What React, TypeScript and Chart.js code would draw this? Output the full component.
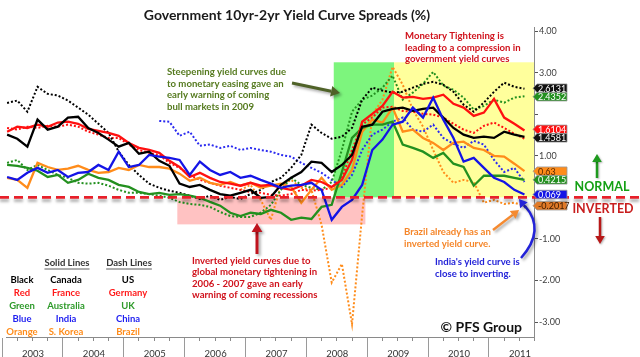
import React, { useEffect, useRef } from 'react';
import { Chart, registerables } from 'chart.js';
Chart.register(...registerables);

const FONT = 'Lato, "Open Sans", sans-serif';

// ---------- data ----------
const dates = [
  '2003-02','2003-04','2003-06','2003-08','2003-10','2003-12',
  '2004-02','2004-04','2004-06','2004-08','2004-10','2004-12',
  '2005-02','2005-04','2005-06','2005-08','2005-10','2005-12',
  '2006-02','2006-04','2006-06','2006-08','2006-10','2006-12',
  '2007-02','2007-04','2007-06','2007-08','2007-10','2007-12',
  '2008-02','2008-04','2008-06','2008-08','2008-10','2008-12',
  '2009-02','2009-04','2009-06','2009-08','2009-10','2009-12',
  '2010-02','2010-04','2010-06','2010-08','2010-10','2010-12',
  '2011-02','2011-04','2011-06','2011-08',
];

const canada = [1.51,1.41,1.22,1.87,1.63,1.70,1.92,1.94,1.67,1.55,1.39,1.22,1.31,1.05,1.10,0.88,0.76,0.33,0.25,0.30,0.18,0.08,0.04,0.11,0.18,-0.01,0.01,0.30,0.47,0.61,0.86,0.83,0.61,0.78,1.02,1.70,1.75,2.06,2.13,2.16,2.08,2.13,2.16,1.92,1.67,1.51,1.43,1.46,1.43,1.58,1.51,1.4581];
const france = [1.58,1.70,1.67,1.75,1.70,1.80,1.82,1.77,1.65,1.60,1.55,1.48,1.31,1.19,1.14,1.07,0.88,0.73,0.49,0.59,0.47,0.37,0.33,0.28,0.35,0.28,0.30,0.23,0.18,0.28,0.42,0.37,0.25,0.42,0.90,1.82,2.01,2.20,2.54,2.40,2.42,2.37,2.40,2.47,2.25,2.16,1.96,2.04,2.37,1.92,1.77,1.6104];
const australia = [0.78,0.76,0.71,0.64,0.49,0.54,0.35,0.42,0.57,0.47,0.42,0.30,0.25,0.13,0.08,0.11,0.06,0.08,0.04,-0.01,-0.11,-0.20,-0.37,-0.45,-0.37,-0.40,-0.30,-0.37,-0.54,-0.49,-0.52,-0.23,-0.18,0.61,1.43,1.67,1.75,1.75,1.82,1.27,1.19,1.10,0.95,1.07,0.81,0.73,0.28,0.52,0.52,0.52,0.47,0.4215];
const india = [0.49,0.42,0.59,0.71,0.59,0.66,0.49,0.59,0.61,0.78,0.66,1.10,0.73,0.78,1.02,0.98,0.95,0.90,0.54,0.86,0.66,0.54,0.61,0.47,0.52,0.42,0.33,0.23,0.28,0.30,0.35,0.18,-0.54,-0.23,-0.06,0.30,1.14,1.39,1.75,1.82,2.16,1.92,2.40,1.87,1.43,0.86,0.95,0.71,0.47,0.37,0.18,0.069];
const sKorea = [0.47,0.42,0.23,0.83,0.73,0.66,0.69,0.76,0.66,0.59,0.61,0.71,0.66,0.78,0.73,0.73,0.69,0.57,0.40,0.47,0.35,0.30,0.37,0.28,0.35,0.23,0.28,0.33,0.25,-0.13,0.18,0.47,0.18,0.30,0.66,1.58,1.87,1.80,2.16,1.58,1.63,1.43,1.31,1.14,1.31,1.34,1.19,1.14,1.00,0.98,0.81,0.63];
const us = [2.27,2.33,2.06,2.66,2.49,2.45,2.33,2.16,1.99,1.77,1.55,1.10,0.78,0.54,0.33,0.23,0.16,0.11,0.04,-0.04,0.04,-0.06,0.01,-0.04,0.08,0.18,0.37,0.47,0.71,1.02,1.75,1.55,1.41,1.46,1.67,2.35,2.64,2.57,2.52,2.54,2.64,2.73,2.78,2.71,2.54,2.23,2.06,2.28,2.54,2.76,2.66,2.6131];
const germany = [1.67,1.63,1.70,1.67,1.72,1.70,1.75,1.70,1.58,1.51,1.43,1.43,1.27,1.14,1.07,1.02,0.83,0.71,0.54,0.42,0.35,0.28,0.23,0.18,0.13,0.11,0.06,0.04,0.08,0.18,0.16,0.18,0.23,0.47,1.14,1.75,1.92,2.16,2.18,2.08,2.06,2.01,1.99,1.92,1.77,1.63,1.55,1.72,1.80,1.67,1.53,1.41];
const uk = [0.83,0.90,0.66,0.78,0.66,0.54,0.47,0.35,0.33,0.35,0.28,0.18,0.11,0.11,0.08,0.04,-0.01,-0.11,-0.16,-0.18,-0.23,-0.35,-0.45,-0.47,-0.47,-0.37,-0.18,0.18,0.47,0.30,0.23,0.18,0.37,1.14,2.06,2.35,2.45,2.64,2.93,2.35,2.52,2.73,3.02,2.69,2.59,2.40,2.11,2.20,2.35,2.28,2.40,2.4352];
const china = [null,null,null,null,null,null,null,null,null,null,null,null,null,null,null,1.84,1.82,1.48,1.58,1.24,1.27,1.19,1.24,1.14,1.19,1.14,1.10,1.02,0.98,0.83,0.71,0.59,0.42,0.25,0.54,1.14,1.51,1.63,1.82,1.92,1.63,1.58,1.75,1.43,1.29,1.19,1.36,1.27,0.90,0.61,0.71,0.37];
const brazil = [null,null,null,null,null,null,null,null,null,null,null,null,null,null,null,null,null,null,null,null,null,null,null,0.18,0.30,-0.06,-0.54,0.30,0.42,0.23,0.18,-0.66,-2.05,-1.60,-3.05,-0.42,1.99,2.35,3.14,2.71,2.11,1.70,1.14,0.61,0.35,0.42,0.37,-0.13,-0.06,-0.16,-0.13,-0.2017];

const yearTicks = [2003, 2004, 2005, 2006, 2007, 2008, 2009, 2010, 2011];
const yTicks = [-3, -2, -1, 0, 1, 2, 3, 4];
const hiddenYLabels = [0, 2];

// shaded periods (fractional years / spread values)
const bandStarts = [2005.88, 2008.45, 2009.44];
const bandEnds = [2008.97, 2009.44, 2011.74];
const bandLows = [-0.65, 0, 0];
const bandHighs = [0, 3.25, 3.25];

// ---------- styles ----------
const bandColors = ['#FFC2C2', '#7DF57D', '#FFFF9C'];
const C = {
  black: '#000000',
  red: '#FF1010',
  green: '#23901F',
  blue: '#1414E6',
  orange: '#FF8C1A',
};

const seriesDefs = [
  { label: 'India', data: india, color: C.blue, dotted: false },
  { label: 'Canada', data: canada, color: C.black, dotted: false },
  { label: 'France', data: france, color: C.red, dotted: false },
  { label: 'Australia', data: australia, color: C.green, dotted: false },
  { label: 'S. Korea', data: sKorea, color: C.orange, dotted: false },
  { label: 'US', data: us, color: C.black, dotted: true },
  { label: 'Germany', data: germany, color: C.red, dotted: true },
  { label: 'UK', data: uk, color: C.green, dotted: true },
  { label: 'China', data: china, color: '#2B2BF0', dotted: true },
  { label: 'Brazil', data: brazil, color: C.orange, dotted: true },
];

const endLabels = [
  { name: 'US', bg: '#111111', fg: '#FFFFFF' },
  { name: 'UK', bg: '#23901F', fg: '#FFFFFF' },
  { name: 'France', bg: '#FF1010', fg: '#FFFFFF' },
  { name: 'Canada', bg: '#111111', fg: '#FFFFFF' },
  { name: 'S. Korea', bg: '#FF8C1A', fg: '#5A2A00' },
  { name: 'Australia', bg: '#23901F', fg: '#FFFFFF' },
  { name: 'India', bg: '#1414E6', fg: '#FFFFFF' },
  { name: 'Brazil', bg: '#E07A28', fg: '#3A1A00' },
];

const legendRows = [
  ['Black', 'Canada', 'US', '#000000'],
  ['Red', 'France', 'Germany', '#FF1A1A'],
  ['Green', 'Australia', 'UK', '#2E9A2A'],
  ['Blue', 'India', 'China', '#1E1EF0'],
  ['Orange', 'S. Korea', 'Brazil', '#FF8C1A'],
];

const toYear = (s: string) => Number(s.slice(0, 4)) + (Number(s.slice(5, 7)) - 1) / 12;

function drawArrow(ctx: CanvasRenderingContext2D, x0: number, y0: number, x1: number, y1: number, color: string, w: number, head: number) {
  const ang = Math.atan2(y1 - y0, x1 - x0);
  const bx = x1 - head * Math.cos(ang);
  const by = y1 - head * Math.sin(ang);
  ctx.strokeStyle = color;
  ctx.lineWidth = w;
  ctx.setLineDash([]);
  ctx.beginPath();
  ctx.moveTo(x0, y0);
  ctx.lineTo(bx, by);
  ctx.stroke();
  ctx.fillStyle = color;
  ctx.beginPath();
  ctx.moveTo(x1, y1);
  ctx.lineTo(bx + head * 0.6 * Math.sin(ang), by - head * 0.6 * Math.cos(ang));
  ctx.lineTo(bx - head * 0.6 * Math.sin(ang), by + head * 0.6 * Math.cos(ang));
  ctx.closePath();
  ctx.fill();
}

function drawLines(ctx: CanvasRenderingContext2D, lines: string[], x: number, y: number, lh: number, color: string, size: number, align: CanvasTextAlign = 'left') {
  ctx.font = `bold ${size}px ${FONT}`;
  ctx.fillStyle = color;
  ctx.textAlign = align;
  ctx.textBaseline = 'middle';
  lines.forEach((t, i) => ctx.fillText(t, x, y + i * lh));
}

const decor = {
  id: 'decor',
  beforeDatasetsDraw(chart: any) {
    const { ctx, chartArea: a, scales } = chart;
    const x = scales.x, y = scales.y;
    ctx.save();
    ctx.beginPath();
    ctx.rect(a.left, a.top, a.right - a.left, a.bottom - a.top);
    ctx.clip();
    bandStarts.forEach((s, i) => {
      const x0 = x.getPixelForValue(s);
      const x1 = x.getPixelForValue(bandEnds[i]);
      const y0 = y.getPixelForValue(bandHighs[i]);
      const y1 = y.getPixelForValue(bandLows[i]);
      ctx.fillStyle = bandColors[i];
      ctx.fillRect(x0, y0, x1 - x0, y1 - y0);
    });
    ctx.restore();
  },
  afterDatasetsDraw(chart: any) {
    const { ctx, chartArea: a, scales } = chart;
    const y = scales.y;
    const W = chart.width;
    ctx.save();

    // zero line (dashed red with soft shadow)
    const y0 = y.getPixelForValue(0);
    ctx.save();
    ctx.shadowColor = 'rgba(0,0,0,0.35)';
    ctx.shadowBlur = 3;
    ctx.shadowOffsetY = 3;
    ctx.strokeStyle = '#E8202A';
    ctx.lineWidth = 2.6;
    ctx.setLineDash([9, 5]);
    ctx.beginPath();
    ctx.moveTo(0, y0);
    ctx.lineTo(W, y0);
    ctx.stroke();
    ctx.restore();

    // end value labels
    const H = 8.5;
    const items = endLabels.map((l) => {
      const s = seriesDefs.find((d) => d.label === l.name)!;
      const v = s.data[s.data.length - 1] as number;
      return { ...l, v, yc: y.getPixelForValue(v) };
    }).sort((p, q) => p.yc - q.yc);
    for (let k = 1; k < items.length; k++) {
      const gap = items[k].yc - items[k - 1].yc;
      if (gap < H) {
        const d = (H - gap) / 2;
        items[k - 1].yc -= d;
        items[k].yc += d;
      }
    }
    const lx0 = a.right - 1;
    const lx1 = lx0 + 34;
    items.forEach((it) => {
      const t = it.yc - H / 2, b = it.yc + H / 2;
      ctx.beginPath();
      ctx.moveTo(lx0, it.yc);
      ctx.lineTo(lx0 + 4, t);
      ctx.lineTo(lx1, t);
      ctx.lineTo(lx1, b);
      ctx.lineTo(lx0 + 4, b);
      ctx.closePath();
      ctx.fillStyle = it.bg;
      ctx.fill();
      ctx.strokeStyle = '#9A9A9A';
      ctx.lineWidth = 0.8;
      ctx.stroke();
      ctx.font = `9px ${FONT}`;
      ctx.fillStyle = it.fg;
      ctx.textAlign = 'left';
      ctx.textBaseline = 'middle';
      ctx.fillText(String(it.v), lx0 + 5, it.yc + 0.5);
    });

    // NORMAL / INVERTED
    drawLines(ctx, ['NORMAL'], 602, 187, 0, '#14A014', 12.5, 'center');
    drawLines(ctx, ['INVERTED'], 603, 209, 0, '#C81E1E', 12.5, 'center');
    ctx.save();
    ctx.shadowColor = 'rgba(0,0,0,0.3)';
    ctx.shadowBlur = 2;
    ctx.shadowOffsetX = 1;
    ctx.shadowOffsetY = 1;
    drawArrow(ctx, 597, 178, 597, 154, '#1E9A1E', 2.5, 8);
    drawArrow(ctx, 600, 217, 600, 244, '#B81818', 2.5, 8);
    ctx.restore();

    // annotations
    drawLines(ctx, ['Monetary Tightening is', 'leading to a compression in', 'government yield curves'], 405, 36, 11.6, '#D0121C', 9.6);
    drawLines(ctx, ['Steepening yield curves due', 'to monetary easing gave an', 'early warning of coming', 'bull markets in 2009'], 167, 72, 11.5, '#557A1F', 9.6);
    drawLines(ctx, ['Inverted yield curves due to', 'global monetary tightening in', '2006 - 2007 gave an early', 'warning of coming recessions'], 192, 261, 11.4, '#D0121C', 9.6);
    drawLines(ctx, ['Brazil already has an', 'inverted yield curve.'], 404, 232, 12, '#F5862A', 9.6);
    drawLines(ctx, ["India's yield curve is", 'close to inverting.'], 435, 262, 11.5, '#2323D8', 9.6);

    ctx.save();
    ctx.shadowColor = 'rgba(0,0,0,0.35)';
    ctx.shadowBlur = 3;
    ctx.shadowOffsetX = 2;
    ctx.shadowOffsetY = 2;
    drawArrow(ctx, 292, 83, 340, 93, '#4F6228', 3, 9);
    drawArrow(ctx, 257, 254, 257, 223, '#C0141E', 3, 9);
    drawArrow(ctx, 493, 230, 519, 210, '#F58A30', 2.5, 8);
    // curved blue arrow
    ctx.strokeStyle = '#2323D8';
    ctx.lineWidth = 2.5;
    ctx.beginPath();
    ctx.moveTo(521, 258);
    ctx.quadraticCurveTo(546, 230, 525, 206);
    ctx.stroke();
    drawArrow(ctx, 526, 208, 519, 199, '#2323D8', 2.5, 8);
    ctx.restore();

    // legend table
    ctx.font = `bold 9.5px ${FONT}`;
    ctx.fillStyle = '#333333';
    ctx.textAlign = 'center';
    ctx.textBaseline = 'middle';
    [['Solid Lines', 67], ['Dash Lines', 129]].forEach(([t, cx]) => {
      ctx.fillText(t as string, cx as number, 263);
      const w = ctx.measureText(t as string).width;
      ctx.strokeStyle = '#333333';
      ctx.lineWidth = 0.8;
      ctx.beginPath();
      ctx.moveTo((cx as number) - w / 2, 269);
      ctx.lineTo((cx as number) + w / 2, 269);
      ctx.stroke();
    });
    const rowY = [280, 293, 306, 319, 332];
    legendRows.forEach((r, i) => {
      ctx.fillStyle = r[3];
      ctx.fillText(r[0], 22, rowY[i]);
      ctx.fillText(r[1], 66, rowY[i]);
      ctx.fillText(r[2], 128, rowY[i]);
    });

    // copyright
    ctx.font = `bold 14px ${FONT}`;
    ctx.fillStyle = '#111111';
    ctx.textAlign = 'right';
    ctx.fillText('\u00A9 PFS Group', 522, 327);

    ctx.restore();
  },
};

export default function App() {
  const ref = useRef<HTMLCanvasElement>(null);
  useEffect(() => {
    document.body.style.margin = '0';
    const xs = dates.map(toYear);
    const chart = new Chart(ref.current!, {
      type: 'line',
      data: {
        datasets: seriesDefs.map((s) => ({
          label: s.label,
          data: s.data.map((v, i) => ({ x: xs[i], y: v })),
          borderColor: s.color,
          backgroundColor: s.color,
          borderWidth: s.dotted ? 2 : 2.3,
          borderDash: s.dotted ? [2, 2] : [],
          pointRadius: 0,
          tension: 0,
          spanGaps: false,
          fill: false,
        })),
      },
      options: {
        responsive: false,
        animation: false,
        layout: { padding: { left: 0, right: 66, top: 0, bottom: 0 } },
        plugins: {
          legend: { display: false },
          tooltip: { enabled: false },
          title: {
            display: true,
            text: 'Government 10yr-2yr Yield Curve Spreads (%)',
            color: '#1a1a1a',
            font: { family: FONT, size: 14, weight: 'bold' },
            padding: { top: 7, bottom: 4 },
          },
        },
        scales: {
          xMinor: {
            type: 'linear',
            position: 'bottom',
            weight: -1,
            min: 2003.07,
            max: 2011.74,
            afterBuildTicks: (scale: any) => {
              const t: any[] = [];
              yearTicks.forEach((yr) => [0.25, 0.5, 0.75].forEach((q) => t.push({ value: yr + q })));
              scale.ticks = t;
            },
            afterFit: (scale: any) => { scale.height = 0; },
            ticks: { display: false },
            grid: { drawOnChartArea: false, tickLength: 4, color: '#8a8a8a' },
            border: { display: false },
          },
          x: {
            type: 'linear',
            position: 'bottom',
            weight: 0,
            min: 2003.07,
            max: 2011.74,
            afterBuildTicks: (scale: any) => {
              scale.ticks = yearTicks.map((v) => ({ value: v }));
            },
            afterFit: (scale: any) => { scale.height = 20; },
            ticks: {
              autoSkip: false,
              maxRotation: 0,
              padding: -9,
              labelOffset: 31,
              color: '#333333',
              font: { family: FONT, size: 9.5 },
              callback: (v: any) => String(v),
            },
            grid: { drawOnChartArea: false, tickLength: 20, color: '#9a9a9a' },
            border: { display: true, color: '#8a8a8a', width: 1 },
          },
          y: {
            type: 'linear',
            position: 'right',
            min: -3.36,
            max: 4.08,
            afterBuildTicks: (scale: any) => {
              scale.ticks = yTicks.map((v) => ({ value: v }));
            },
            afterFit: (scale: any) => { scale.width = 40; },
            ticks: {
              padding: 1,
              color: '#404040',
              font: { family: FONT, size: 9 },
              callback: (v: any) => (hiddenYLabels.includes(Number(v)) ? '' : Number(v).toFixed(2)),
            },
            grid: { drawOnChartArea: false, tickLength: 4, color: '#555555' },
            border: { display: true, color: '#8a8a8a', width: 1 },
          },
        },
      },
      plugins: [decor],
    } as any);
    return () => chart.destroy();
  }, []);
  return (
    <div style={{ width: 640, height: 357 }}>
      <canvas ref={ref} width={640} height={357} style={{ display: 'block' }} />
    </div>
  );
}
